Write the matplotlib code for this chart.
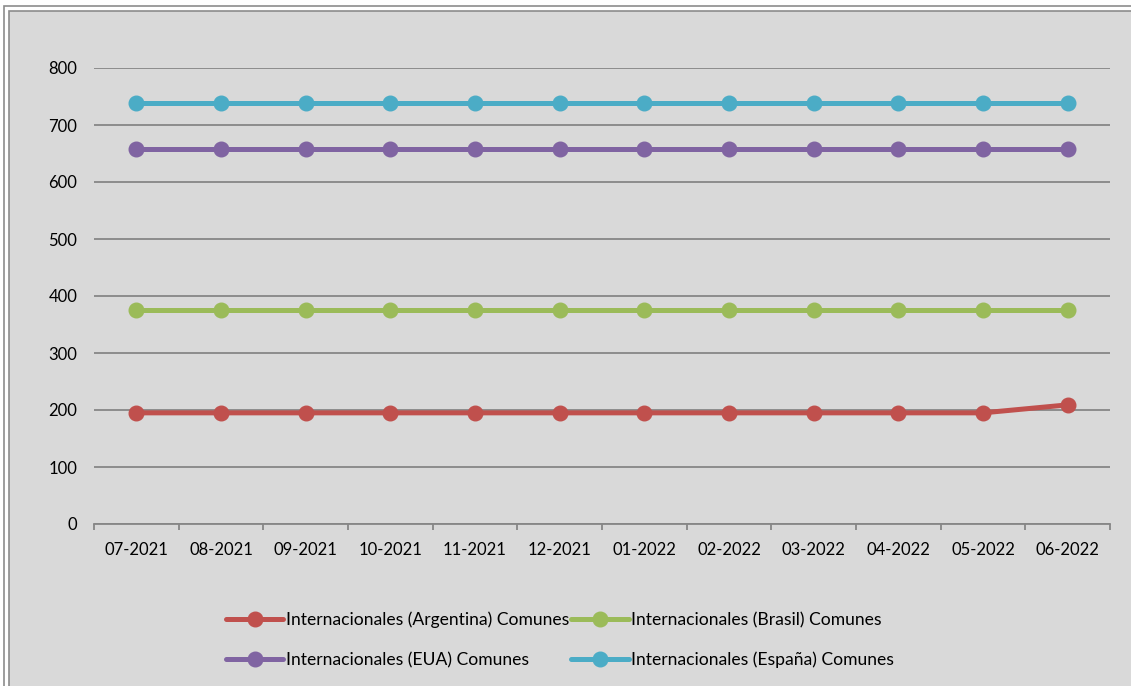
import matplotlib.pyplot as plt
from matplotlib.patches import Rectangle
from matplotlib.ticker import FixedLocator

# data
meses = ["07-2021", "08-2021", "09-2021", "10-2021", "11-2021", "12-2021",
         "01-2022", "02-2022", "03-2022", "04-2022", "05-2022", "06-2022"]
argentina = [195, 195, 195, 195, 195, 195, 195, 195, 195, 195, 195, 209]
brasil = [376, 376, 376, 376, 376, 376, 376, 376, 376, 376, 376, 376]
eua = [658, 658, 658, 658, 658, 658, 658, 658, 658, 658, 658, 658]
espana = [738, 738, 738, 738, 738, 738, 738, 738, 738, 738, 738, 738]

series = [
    ("Internacionales (Argentina) Comunes", argentina, "#C0504D"),
    ("Internacionales (Brasil) Comunes", brasil, "#9BBB59"),
    ("Internacionales (EUA) Comunes", eua, "#8064A2"),
    ("Internacionales (España) Comunes", espana, "#4BACC6"),
]

plt.rcParams["font.family"] = ["Lato", "DejaVu Sans"]
FS = 12

W, H = 1131, 686
fig = plt.figure(figsize=(W / 100, H / 100), dpi=100, facecolor="white")

# chart area frame (double border, cut at right/bottom)
fig.patches.append(Rectangle((4 / W, -0.1), 1.2, 1 - 6 / H + 0.1, transform=fig.transFigure,
                             facecolor="white", edgecolor="#8C8C8C", linewidth=1.2, zorder=-2))
fig.patches.append(Rectangle((9 / W, -0.1), 1.2, 1 - 10.5 / H + 0.1, transform=fig.transFigure,
                             facecolor="#D9D9D9", edgecolor="#8C8C8C", linewidth=1.2, zorder=-1))

ax = fig.add_axes([94 / W, 1 - 524 / H, (1110 - 94) / W, (524 - 68) / H])
ax.set_zorder(2)
ax.set_facecolor("none")

x = list(range(len(meses)))
handles = {}
for name, vals, col in series:
    ln, = ax.plot(x, vals, color=col, linewidth=3.6, marker="o", markersize=10.5,
                  label=name, solid_capstyle="round", zorder=3, clip_on=False)
    handles[name] = ln

ax.set_xlim(-0.5, len(meses) - 0.5)
ax.set_ylim(0, 800)
ax.set_yticks(range(0, 801, 100))
ax.set_xticks(x)
ax.set_xticklabels(meses)
ax.xaxis.set_minor_locator(FixedLocator([i - 0.5 for i in range(len(meses) + 1)]))

ax.grid(axis="y", color="#878787", linewidth=1.3, zorder=1)
for s in ["top", "right", "left"]:
    ax.spines[s].set_visible(False)
ax.spines["bottom"].set_color("#878787")
ax.spines["bottom"].set_linewidth(1.3)

ax.tick_params(axis="y", length=0, pad=12, labelsize=FS, labelcolor="black")
ax.tick_params(axis="x", which="major", length=0, pad=13, labelsize=FS)
ax.tick_params(axis="x", which="minor", length=4, width=1.3, color="#878787", direction="out")

# matplotlib fills legend columns first, so reorder to get row-wise order
order = [series[0][0], series[2][0], series[1][0], series[3][0]]
leg = fig.legend([handles[n] for n in order], order, loc="center",
                 bbox_to_anchor=(560 / W, 1 - 640 / H), ncol=2,
                 frameon=False, fontsize=12.6, handlelength=3.3, handletextpad=0.15,
                 columnspacing=0.1, labelspacing=1.35)
leg.set_zorder(3)

fig.savefig("out.png", dpi=100, facecolor="white")
